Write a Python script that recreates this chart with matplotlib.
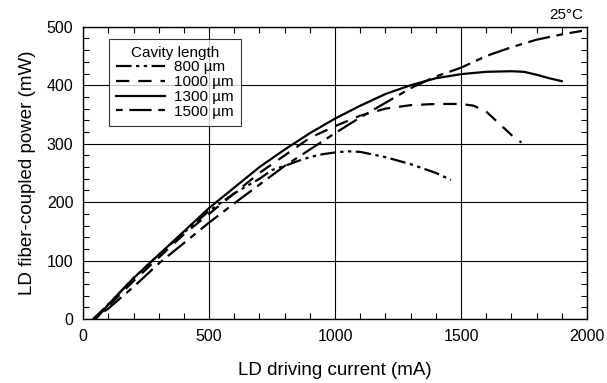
import matplotlib
matplotlib.use("Agg")
import matplotlib.pyplot as plt
from matplotlib.ticker import MultipleLocator

plt.rcParams['font.family'] = ['Liberation Sans', 'DejaVu Sans']

# LD current (mA) vs fiber-coupled power (mW)
i_800 = [40, 100, 200, 300, 400, 500, 600, 700, 750, 800, 850, 900, 950, 1000, 1050, 1100, 1200, 1300, 1400, 1460]
p_800 = [0, 25, 70, 110, 148, 185, 215, 240, 255, 262, 270, 277, 282, 285, 287, 286, 277, 265, 250, 238]

i_1000 = [40, 100, 200, 300, 400, 500, 600, 700, 800, 900, 1000, 1100, 1200, 1300, 1400, 1500, 1550, 1600, 1650, 1700, 1740]
p_1000 = [0, 22, 65, 105, 145, 180, 215, 250, 280, 310, 330, 348, 360, 366, 368, 368, 365, 355, 335, 315, 302]

i_1300 = [50, 100, 200, 300, 400, 500, 600, 700, 800, 900, 1000, 1100, 1200, 1300, 1400, 1500, 1600, 1700, 1750, 1800, 1850, 1900]
p_1300 = [0, 25, 70, 110, 150, 190, 225, 260, 290, 318, 343, 365, 385, 400, 412, 419, 423, 424, 423, 418, 412, 407]

i_1500 = [40, 100, 200, 300, 400, 500, 600, 700, 800, 900, 1000, 1100, 1200, 1300, 1400, 1500, 1600, 1700, 1800, 1900, 1980]
p_1500 = [0, 18, 55, 95, 130, 165, 198, 230, 262, 290, 318, 345, 370, 395, 415, 430, 450, 465, 478, 487, 493]

labels = ['800 \u00b5m', '1000 \u00b5m', '1300 \u00b5m', '1500 \u00b5m']

fig = plt.figure(figsize=(6.07, 3.83), dpi=100)
ax = fig.add_axes([0.137, 0.167, 0.830, 0.763])

lw = 1.6
ax.plot(i_800, p_800, color='black', lw=lw, ls=(0, (7, 2, 1.5, 2, 1.5, 2)), label=labels[0])
ax.plot(i_1000, p_1000, color='black', lw=lw, ls=(0, (6, 4)), label=labels[1])
ax.plot(i_1300, p_1300, color='black', lw=lw, ls='-', label=labels[2])
ax.plot(i_1500, p_1500, color='black', lw=lw, ls=(0, (3, 3, 10, 3)), label=labels[3])

ax.set_xlim(0, 2000)
ax.set_ylim(0, 500)
ax.xaxis.set_major_locator(MultipleLocator(500))
ax.xaxis.set_minor_locator(MultipleLocator(100))
ax.yaxis.set_major_locator(MultipleLocator(100))
ax.yaxis.set_minor_locator(MultipleLocator(20))
ax.grid(True, which='major', color='black', lw=0.8)
ax.tick_params(which='both', direction='in', top=True, right=True, labelsize=11.5, pad=7)
ax.tick_params(which='major', length=0)
ax.tick_params(which='minor', length=4, width=0.8)
for s in ax.spines.values():
    s.set_linewidth(1.0)

ax.set_xlabel('LD driving current (mA)', fontsize=13.5, labelpad=13)
ax.set_ylabel('LD fiber-coupled power (mW)', fontsize=13.5, labelpad=8)
ax.text(0.992, 1.015, '25\u00b0C', transform=ax.transAxes, ha='right', va='bottom', fontsize=11)

leg = ax.legend(loc='upper left', bbox_to_anchor=(0.052, 0.959), title='Cavity length',
                fontsize=11, title_fontsize=11, frameon=True, fancybox=False,
                edgecolor='black', handlelength=3.2, handletextpad=0.6,
                borderpad=0.45, labelspacing=0.05, borderaxespad=0)
leg.get_frame().set_linewidth(0.8)

fig.savefig('out.png', dpi=100)
